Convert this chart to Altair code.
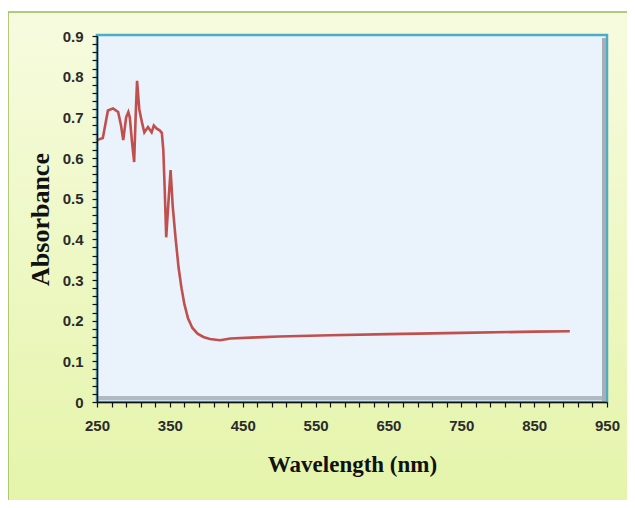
import altair as alt
import pandas as pd

# Wavelength (nm) and absorbance
wavelength = [250, 258, 265, 272, 279, 283, 286, 290, 293, 295, 298, 301, 303, 305, 308,
              312, 315, 320, 325, 328, 332, 336, 339, 341, 343, 345, 348, 351, 354, 358,
              362, 366, 370, 375, 381, 388, 396, 405, 419, 433, 470, 500, 570, 650, 750, 850, 899]
absorbance = [0.644, 0.649, 0.717, 0.722, 0.713, 0.68, 0.644, 0.70, 0.713, 0.70, 0.64, 0.59,
              0.70, 0.79, 0.72, 0.685, 0.663, 0.676, 0.663, 0.68, 0.672, 0.668, 0.662, 0.62,
              0.52, 0.405, 0.49, 0.57, 0.48, 0.40, 0.33, 0.28, 0.24, 0.205, 0.182, 0.168, 0.16,
              0.155, 0.152, 0.156, 0.159, 0.161, 0.164, 0.167, 0.170, 0.173, 0.174]

x_ticks = list(range(250, 951, 20))
y_ticks = [round(i * 0.02, 2) for i in range(46)]

W, H = 510, 366

df = pd.DataFrame({"wl": wavelength, "abs": absorbance})
one = alt.Data(values=[{"k": 1}])

label_font = "Liberation Sans Narrow, Liberation Sans, sans-serif"
title_font = "Liberation Serif, Times New Roman, serif"

frame = alt.Chart(one).mark_rect(
    color=alt.Gradient(
        gradient="linear",
        stops=[alt.GradientStop(color="#f7fbdf", offset=0),
               alt.GradientStop(color="#e3f4a6", offset=1)],
        x1=0, x2=0, y1=0, y2=1),
    stroke="#9bbb59", strokeWidth=1.5,
).encode(x=alt.value(-89), x2=alt.value(560), y=alt.value(-24), y2=alt.value(500))

plot_bg = alt.Chart(one).mark_rect(
    fill="#eaf2fb", stroke="#4bacc6", strokeWidth=2.5,
).encode(x=alt.value(0), x2=alt.value(W), y=alt.value(-1), y2=alt.value(H))

bevel_r = alt.Chart(one).mark_rule(color="#a7aeb6", strokeWidth=4).encode(
    x=alt.value(W - 3), y=alt.value(2), y2=alt.value(H - 1))
bevel_b = alt.Chart(one).mark_rule(color="#b3b9c0", strokeWidth=4).encode(
    y=alt.value(H - 4), x=alt.value(1), x2=alt.value(W - 5))

x_enc = alt.X("wl:Q", scale=alt.Scale(domain=[250, 950], nice=False, zero=False),
              axis=alt.Axis(
                  title="Wavelength (nm)", values=x_ticks, grid=False,
                  labelExpr="(datum.value - 250) % 100 == 0 ? format(datum.value, 'd') : ''",
                  labelFlush=False, labelOverlap=False, labelPadding=11,
                  tickSize=5, tickColor="#111", domainColor="#111", domainWidth=1.5,
                  tickWidth=1.2, labelFont=label_font, labelFontSize=15,
                  labelFontWeight="bold", labelColor="#2b2b2b",
                  titleFont=title_font, titleFontSize=23, titleFontWeight="bold",
                  titleColor="#111", titlePadding=20, zindex=2))
y_enc = alt.Y("abs:Q", scale=alt.Scale(domain=[0, 0.9], nice=False),
              axis=alt.Axis(
                  title="Absorbance", values=y_ticks, grid=False,
                  labelExpr="round(datum.value * 100) % 10 == 0 ? (datum.value == 0 ? '0' : format(datum.value, '.1f')) : ''",
                  labelFlush=False, labelOverlap=False, labelPadding=9,
                  tickSize=5, tickColor="#111", domainColor="#111", domainWidth=1.5,
                  tickWidth=1.2, labelFont=label_font, labelFontSize=15,
                  labelFontWeight="bold", labelColor="#2b2b2b",
                  titleFont=title_font, titleFontSize=26, titleFontWeight="bold",
                  titleColor="#111", titlePadding=9, zindex=2))

line = alt.Chart(df).mark_line(color="#c0504d", strokeWidth=2.6).encode(
    x=x_enc, y=y_enc)

chart = alt.layer(frame, plot_bg, bevel_r, bevel_b, line).properties(
    width=W, height=H,
    autosize=alt.AutoSizeParams(type="none"),
    padding={"left": 89, "top": 28, "right": 20, "bottom": 98},
    background="white",
).configure_view(stroke=None)

chart.save("out.html", embed_options={"renderer": "svg", "actions": False})
